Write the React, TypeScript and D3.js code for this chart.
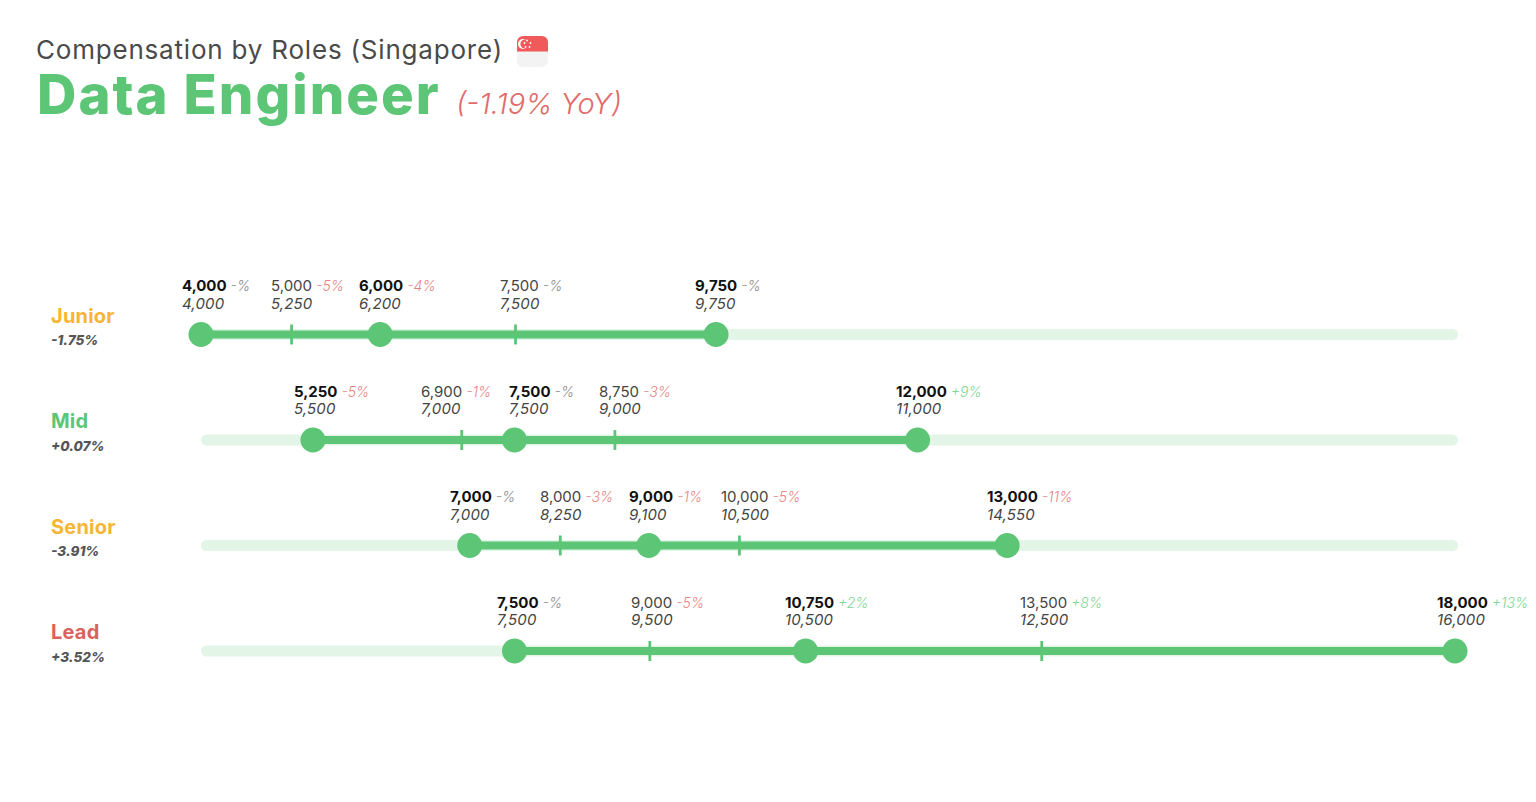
import React from "react";
import * as d3 from "d3";

const roles = ["Junior", "Mid", "Senior", "Lead"];
const roleChanges = ["-1.75%", "+0.07%", "-3.91%", "+3.52%"];
const roleColors = ["#f7b538", "#5cc676", "#f7b538", "#d9625f"];

const juniorValues = [4000, 5000, 6000, 7500, 9750];
const midValues = [5250, 6900, 7500, 8750, 12000];
const seniorValues = [7000, 8000, 9000, 10000, 13000];
const leadValues = [7500, 9000, 10750, 13500, 18000];
const allValues = [juniorValues, midValues, seniorValues, leadValues];

// Two ticks are drawn left of where their printed values would fall.
const midPlotted = [5250, 6900, 7500, 8610, 12000];
const leadPlotted = [7500, 9000, 10750, 13375, 18000];
const allPlotted = [juniorValues, midPlotted, seniorValues, leadPlotted];

const juniorPrior = [4000, 5250, 6200, 7500, 9750];
const midPrior = [5500, 7000, 7500, 9000, 11000];
const seniorPrior = [7000, 8250, 9100, 10500, 14550];
const leadPrior = [7500, 9500, 10500, 12500, 16000];
const allPrior = [juniorPrior, midPrior, seniorPrior, leadPrior];

const juniorYoY = ["-%", "-5%", "-4%", "-%", "-%"];
const midYoY = ["-5%", "-1%", "-%", "-3%", "+9%"];
const seniorYoY = ["-%", "-3%", "-1%", "-5%", "-11%"];
const leadYoY = ["-%", "-5%", "+2%", "+8%", "+13%"];
const allYoY = [juniorYoY, midYoY, seniorYoY, leadYoY];

const domainMin = 4000;
const domainMax = 18000;

// layout
const WIDTH = 1536;
const HEIGHT = 802;
const labelLeft = [
  [182, 271, 359, 500, 695],
  [294, 421, 509, 599, 896],
  [450, 540, 629, 721, 987],
  [497, 631, 785, 1020, 1437],
];
const flagStars = [
  [527, 40.5],
  [530.5, 43],
  [529.5, 47],
  [525.5, 47],
  [524.5, 43],
];
const FONT = "Inter, 'Open Sans', sans-serif";
const GREEN = "#5cc676";
const RED = "#e06c6a";

const x = d3.scaleLinear().domain([domainMin, domainMax]).range([201, 1455]);
const y = d3.scalePoint<string>().domain(roles).range([334.5, 651]);
const fmt = d3.format(",");

const yoyColor = (s: string) =>
  s.startsWith("+") ? "#7fd596" : s === "-%" ? "#8a8a8a" : "#e58583";

export default function App() {
  return (
    <svg
      width={WIDTH}
      height={HEIGHT}
      viewBox={`0 0 ${WIDTH} ${HEIGHT}`}
      style={{ position: "absolute", left: 0, top: 0, background: "#fff", fontFamily: FONT }}
    >
      <text x={36} y={59} fontSize={26} fill="#4a4a4a" letterSpacing={0.8}>
        Compensation by Roles (Singapore)
      </text>
      <g>
        <rect x={517} y={36} width={31} height={31} rx={6} fill="#f3f3f3" />
        <path d="M517 51.5 V42 a6 6 0 0 1 6 -6 h19 a6 6 0 0 1 6 6 V51.5 Z" fill="#f05a5b" />
        <circle cx={523} cy={44} r={5} fill="#fff" />
        <circle cx={525} cy={44} r={4.6} fill="#f05a5b" />
        {flagStars.map(([sx, sy], i) => (
          <circle key={i} cx={sx} cy={sy} r={0.9} fill="#fff" />
        ))}
      </g>
      <text x={37} y={114} fontSize={54.5} fontWeight={800} fill={GREEN} letterSpacing={2}>
        Data Engineer
      </text>
      <text x={456} y={113.5} fontSize={29} fontStyle="italic" fontWeight={300} fill={RED}>
        (-1.19% YoY)
      </text>

      {roles.map((role, r) => {
        const cy = y(role)!;
        const plotted = allPlotted[r];
        return (
          <g key={role}>
            <text x={51} y={cy - 12} fontSize={20} fontWeight={700} fill={roleColors[r]} letterSpacing={0.2}>
              {role}
            </text>
            <text x={51} y={cy + 10.5} fontSize={13.5} fontWeight={800} fontStyle="italic" fill="#555">
              {roleChanges[r]}
            </text>
            <rect
              x={x(domainMin)}
              width={x(domainMax) + 3 - x(domainMin)}
              y={cy - 5.5}
              height={11}
              rx={5.5}
              fill="#e2f5e7"
            />
            <line
              x1={x(plotted[0])}
              x2={x(plotted[4])}
              y1={cy}
              y2={cy}
              stroke={GREEN}
              strokeWidth={8}
            />
            {plotted.map((v, i) =>
              i % 2 === 0 ? (
                <circle key={i} cx={x(v)} cy={cy} r={12.5} fill={GREEN} />
              ) : (
                <line
                  key={i}
                  x1={x(v) + 1}
                  x2={x(v) + 1}
                  y1={cy - 10}
                  y2={cy + 10}
                  stroke={GREEN}
                  strokeWidth={2.8}
                />
              )
            )}
            {allValues[r].map((v, i) => (
              <g key={i}>
                <text x={labelLeft[r][i]} y={cy - 43.5} fontSize={15} fill="#444">
                  <tspan
                    fontWeight={i % 2 === 0 ? 700 : 400}
                    fill={i % 2 === 0 ? "#111" : "#444"}
                  >
                    {fmt(v)}
                  </tspan>
                  <tspan dx={4} fontSize={14} fontStyle="italic" fontWeight={300} fill={yoyColor(allYoY[r][i])}>
                    {allYoY[r][i]}
                  </tspan>
                </text>
                <text
                  x={labelLeft[r][i]}
                  y={cy - 26}
                  fontSize={15}
                  fontStyle="italic"
                  fill="#444"
                  letterSpacing={0.15}
                >
                  {fmt(allPrior[r][i])}
                </text>
              </g>
            ))}
          </g>
        );
      })}
    </svg>
  );
}
